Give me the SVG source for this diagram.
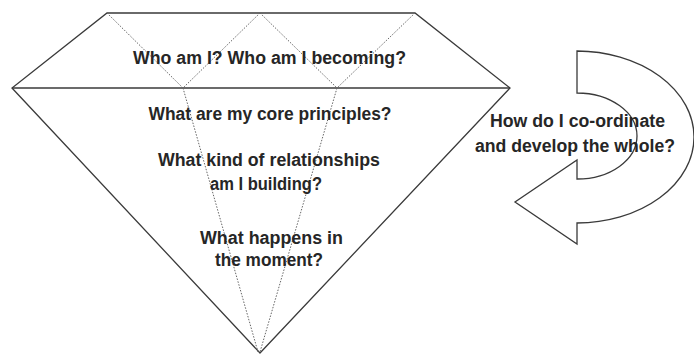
<svg xmlns="http://www.w3.org/2000/svg" width="694" height="356" viewBox="0 0 694 356">
  <style>
    .edge { fill: none; stroke: #3a3a3a; stroke-width: 1.3; stroke-linejoin: miter; }
    .facet { fill: none; stroke: #666; stroke-width: 1; stroke-dasharray: 1.5 1.5; }
    .label { font-family: "Liberation Sans", Arial, sans-serif; font-weight: bold; font-size: 18px; fill: #262626; text-anchor: middle; }
  </style>
  <rect x="0" y="0" width="694" height="356" fill="#ffffff"/>

  <!-- Diamond outline with girdle line and dotted facets -->
  <g id="diamond">
    <polygon class="edge" points="107,13 415,13 510,88 260,353 12,88"/>
    <line class="edge" x1="12" y1="88" x2="510" y2="88"/>
    <g id="facets">
      <line class="facet" x1="107" y1="13" x2="183" y2="88"/>
      <line class="facet" x1="260" y1="13" x2="183" y2="88"/>
      <line class="facet" x1="260" y1="13" x2="337" y2="88"/>
      <line class="facet" x1="415" y1="13" x2="337" y2="88"/>
      <line class="facet" x1="183" y1="88" x2="258" y2="352"/>
      <line class="facet" x1="337" y1="88" x2="260" y2="352"/>
    </g>
  </g>

  <!-- U-turn arrow on the right -->
  <g id="cycle-arrow">
    <path class="edge" d="M577,51 A117,86 0 0 1 577,223 L577,244 L515,202 L577,160 L577,179 A60,43 0 0 0 577,93 Z"/>
  </g>

  <!-- Questions inside the diamond -->
  <g id="q-identity">
    <text class="label" x="269.5" y="64" textLength="273" lengthAdjust="spacingAndGlyphs">Who am I? Who am I becoming?</text>
  </g>
  <g id="q-principles">
    <text class="label" x="270" y="120" textLength="243" lengthAdjust="spacingAndGlyphs">What are my core principles?</text>
  </g>
  <g id="q-relationships">
    <text class="label" x="269" y="166" textLength="222" lengthAdjust="spacingAndGlyphs">What kind of relationships</text>
    <text class="label" x="266" y="190" textLength="112" lengthAdjust="spacingAndGlyphs">am I building?</text>
  </g>
  <g id="q-moment">
    <text class="label" x="271.5" y="244" textLength="143" lengthAdjust="spacingAndGlyphs">What happens in</text>
    <text class="label" x="269" y="266" textLength="108" lengthAdjust="spacingAndGlyphs">the moment?</text>
  </g>

  <!-- Question beside the arrow -->
  <g id="q-whole">
    <text class="label" x="577.5" y="127" textLength="175" lengthAdjust="spacingAndGlyphs">How do I co-ordinate</text>
    <text class="label" x="575" y="152" textLength="200" lengthAdjust="spacingAndGlyphs">and develop the whole?</text>
  </g>
</svg>
